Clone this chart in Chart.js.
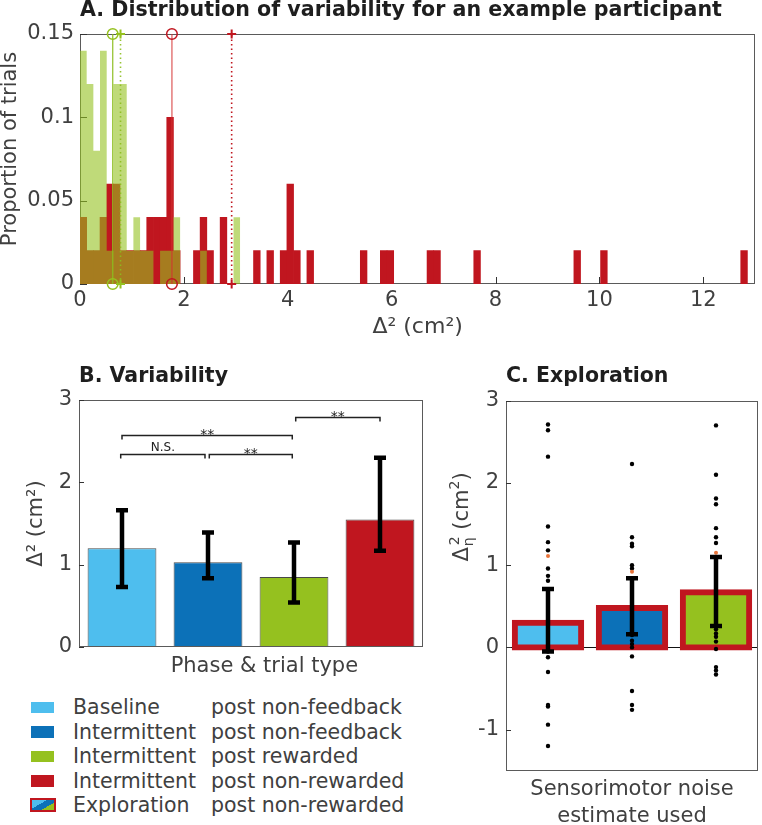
<!DOCTYPE html>
<html lang="en">
<head>
<meta charset="UTF-8" />
<title>Variability and exploration</title>
<script src="https://cdn.jsdelivr.net/npm/chart.js"></script>
<style>
  html, body { margin: 0; padding: 0; background: #fff; overflow: hidden; }
  body { width: 762px; height: 825px; position: relative; font-family: "DejaVu Sans", sans-serif; }
  .panel { position: absolute; }
  #legend { position: absolute; left: 0; top: 695px; width: 430px; font-size: 20.5px; color: #404040; }
  .row { position: absolute; left: 0; height: 24.6px; line-height: 24.6px; white-space: nowrap; width: 430px; }
  .sw { position: absolute; left: 31px; top: 6.5px; width: 23px; height: 11.5px; }
  .sw.explore { left: 29.5px; top: 5px; width: 22.5px; height: 10px; border: 2px solid #C0161F; }
  .c1 { position: absolute; left: 73px; }
  .c2 { position: absolute; left: 211px; }
</style>
</head>
<body>
  <canvas id="chartA" class="panel" width="762" height="345" style="left:0;top:0"></canvas>
  <canvas id="chartB" class="panel" width="430" height="335" style="left:0;top:355px"></canvas>
  <canvas id="chartC" class="panel" width="332" height="475" style="left:430px;top:355px"></canvas>
  <div id="legend"></div>

<script>
// ---- panel A: histogram of squared deviations (one participant) ----
const binWidth = 0.1285;
const greenBins = [0, 1, 2, 3, 4, 5, 6, 7, 8, 9, 10, 12, 13, 14, 18, 23];
const greenProp = [0.14, 0.12, 0.08, 0.14, 0.02, 0.12, 0.12, 0.02, 0.04, 0.02, 0.02, 0.02, 0.02, 0.04, 0.02, 0.04];
const redBins = [0, 1, 2, 3, 4, 5, 6, 7, 8, 9, 10, 11, 12, 13, 14, 17, 18, 19, 21, 26, 28, 30, 31, 32, 34, 42, 45, 46, 52, 53, 59, 74, 78, 99];
const redProp = [0.04, 0.02, 0.02, 0.04, 0.06, 0.06, 0.02, 0.02, 0.02, 0.02, 0.04, 0.04, 0.04, 0.10, 0.02,
                 0.02, 0.04, 0.02, 0.04, 0.02, 0.02, 0.02, 0.06, 0.02, 0.02,
                 0.02, 0.02, 0.02, 0.02, 0.02, 0.02, 0.02, 0.02, 0.02];
// vertical summary lines: green circle, green cross, red circle, red cross
const markerX = [0.63, 0.78, 1.77, 2.92];
const markerStyle = ['circle', 'cross', 'circle', 'cross'];
const markerDotted = [false, true, false, true];
const xTicksA = [0, 2, 4, 6, 8, 10, 12];
const yTicksA = [0, 0.05, 0.1, 0.15];

// ---- panel B: variability by phase & trial type ----
const trialTypes = ['Baseline post non-feedback', 'Intermittent post non-feedback', 'Intermittent post rewarded', 'Intermittent post non-rewarded'];
const variability = [1.20, 1.03, 0.85, 1.55];
const variabilityLow = [0.73, 0.835, 0.54, 1.17];
const variabilityHigh = [1.66, 1.39, 1.27, 2.30];
const bracketFrom = [-0.015, 1.015, 0, 2.02];
const bracketTo = [0.965, 1.98, 1.98, 3.0];
const bracketY = [2.344, 2.344, 2.575, 2.79];
const bracketText = ['N.S.', '**', '**', '**'];
const yTicksB = [0, 1, 2, 3];

// ---- panel C: exploration by sensorimotor noise estimate ----
const noiseEstimates = ['Baseline', 'Intermittent non-feedback', 'Intermittent rewarded'];
const exploration = [0.30, 0.48, 0.67];
const explorationLow = [-0.05, 0.16, 0.26];
const explorationHigh = [0.71, 0.84, 1.10];
const subjectsBaseline = [2.71, 2.64, 2.32, 1.47, 1.28, 1.18, 0.96, 0.87, 0.81, -0.05, -0.12, -0.30, -0.70, -0.72, -0.94, -1.20];
const subjectsNonFeedback = [2.23, 1.34, 1.26, 1.23, 1.00, 0.96, 0.15, 0.08, 0.04, 0.00, -0.11, -0.53, -0.70, -0.76];
const subjectsRewarded = [2.70, 2.10, 1.81, 1.74, 1.45, 1.34, 1.27, 0.22, 0.17, 0.13, 0.07, -0.02, -0.24, -0.28, -0.33];
const highlighted = [1.11, 0.92, 1.15];
const yTicksC = [-1, 0, 1, 2, 3];

const lightBlue = '#4EBEEE', blue = '#0C71B8', green = '#95C11F', red = '#C0161F';
const textCol = '#404040';
const FONT = '"DejaVu Sans", sans-serif';
Chart.defaults.font.family = FONT;
Chart.defaults.color = textCol;

// box round the plot + inward tick marks (matlab style)
function drawFrame(chart, o) {
  const {ctx, chartArea: a} = chart;
  ctx.save();
  ctx.strokeStyle = '#5a5a5a';
  ctx.lineWidth = 1;
  ctx.strokeRect(Math.round(a.left) + 0.5, Math.round(a.top) + 0.5, Math.round(a.width) - 1, Math.round(a.height) - 1);
  ctx.strokeStyle = '#333';
  ctx.beginPath();
  if (o.yTicks) {
    const y = chart.scales.y;
    y.ticks.forEach(t => {
      const p = Math.round(y.getPixelForValue(t.value)) + 0.5;
      ctx.moveTo(a.left, p); ctx.lineTo(a.left + o.len, p);
    });
  }
  if (o.xTicks) {
    const x = chart.scales.x;
    x.ticks.forEach(t => {
      const p = Math.round(x.getPixelForValue(t.value)) + 0.5;
      ctx.moveTo(p, a.bottom); ctx.lineTo(p, a.bottom - o.len);
    });
  }
  ctx.stroke();
  ctx.restore();
}
const frame = {
  id: 'frame',
  beforeDatasetsDraw(chart, args, o) {
    if (o.zeroLine) {
      const {ctx, chartArea: a} = chart;
      const p = Math.round(chart.scales.y.getPixelForValue(0)) + 0.5;
      ctx.save();
      ctx.strokeStyle = '#111'; ctx.lineWidth = 1;
      ctx.beginPath(); ctx.moveTo(a.left, p); ctx.lineTo(a.right, p); ctx.stroke();
      ctx.restore();
    }
    if (o.layer === 'before') drawFrame(chart, o);
  },
  afterDatasetsDraw(chart, args, o) {
    if (o.layer !== 'before') drawFrame(chart, o);
  }
};

function makeErrorBars(low, high, cap, width) {
  return {
    id: 'errorBars',
    afterDatasetsDraw(chart) {
      const {ctx} = chart;
      const x = chart.scales.x, y = chart.scales.y;
      ctx.save();
      ctx.strokeStyle = '#000';
      ctx.lineWidth = width;
      low.forEach((lo, i) => {
        const px = x.getPixelForValue(i);
        const y0 = y.getPixelForValue(lo), y1 = y.getPixelForValue(high[i]);
        ctx.beginPath();
        ctx.moveTo(px, y0); ctx.lineTo(px, y1);
        ctx.moveTo(px - cap, y0); ctx.lineTo(px + cap, y0);
        ctx.moveTo(px - cap, y1); ctx.lineTo(px + cap, y1);
        ctx.stroke();
      });
      ctx.restore();
    }
  };
}

const brackets = {
  id: 'brackets',
  afterDatasetsDraw(chart) {
    const {ctx} = chart;
    const x = chart.scales.x, y = chart.scales.y;
    ctx.save();
    ctx.strokeStyle = '#222';
    ctx.fillStyle = '#222';
    ctx.lineWidth = 1.5;
    ctx.textAlign = 'center';
    ctx.textBaseline = 'alphabetic';
    bracketY.forEach((v, i) => {
      const x0 = x.getPixelForValue(bracketFrom[i]), x1 = x.getPixelForValue(bracketTo[i]);
      const py = Math.round(y.getPixelForValue(v)) + 0.5;
      ctx.beginPath();
      ctx.moveTo(x0, py + 4); ctx.lineTo(x0, py); ctx.lineTo(x1, py); ctx.lineTo(x1, py + 4);
      ctx.stroke();
      if (bracketText[i] === '**') {
        ctx.font = '14px ' + FONT;
        ctx.fillText(bracketText[i], (x0 + x1) / 2, py + 3);
      } else {
        ctx.font = '12px ' + FONT;
        ctx.fillText(bracketText[i], (x0 + x1) / 2, py - 4);
      }
    });
    ctx.restore();
  }
};

// y title of C: Delta with eta subscript and squared
const etaTitle = {
  id: 'etaTitle',
  afterDraw(chart) {
    const {ctx} = chart;
    const big = '21px ' + FONT, small = '14px ' + FONT;
    ctx.save();
    ctx.fillStyle = textCol;
    ctx.textBaseline = 'alphabetic';
    ctx.textAlign = 'left';
    ctx.font = big;
    const wD = ctx.measureText('Δ').width;
    const wRest = ctx.measureText(' (cm').width;
    const wEnd = ctx.measureText(')').width;
    ctx.font = small;
    const wEta = ctx.measureText('η').width;
    const w2 = ctx.measureText('2').width;
    const total = wD + wEta + 2 + wRest + w2 + wEnd;
    ctx.translate(38, 162);
    ctx.rotate(-Math.PI / 2);
    let cx = -total / 2;
    ctx.font = big; ctx.fillText('Δ', cx, 0); cx += wD;
    ctx.font = small; ctx.fillText('η', cx + 1, 5); ctx.fillText('2', cx + 2, -9); cx += wEta + 2;
    ctx.font = big; ctx.fillText(' (cm', cx, 0); cx += wRest;
    ctx.font = small; ctx.fillText('2', cx, -9); cx += w2;
    ctx.font = big; ctx.fillText(')', cx, 0);
    ctx.restore();
  }
};

const tickFont = {size: 21};
const setTicks = vals => scale => { scale.ticks = vals.map(v => ({value: v})); };

// green histogram as a filled step outline (avoids seams between translucent bars)
const greenSteps = [];
const lastGreen = Math.max(...greenBins) + 1;
for (let k = 0; k <= lastGreen; k++) {
  const j = greenBins.indexOf(k);
  greenSteps.push({x: k * binWidth, y: j >= 0 ? greenProp[j] : 0});
}

// ---------------- A ----------------
const markerColors = [green, green, red, red];
const lineColors = ['rgba(140,190,30,0.9)', 'rgba(140,190,30,0.9)', 'rgba(214,50,50,0.75)', red];
new Chart(document.getElementById('chartA'), {
  type: 'bar',
  data: {
    datasets: [
      ...markerX.map((v, i) => ({
        type: 'line',
        label: 'summary ' + i,
        data: [{x: v, y: 0}, {x: v, y: 0.15}],
        borderColor: lineColors[i],
        borderWidth: markerDotted[i] ? 1.6 : 1.3,
        borderDash: markerDotted[i] ? [1.5, 3] : [],
        pointStyle: markerStyle[i],
        pointRadius: markerStyle[i] === 'circle' ? 5.3 : 4.5,
        pointBorderColor: markerColors[i],
        pointBackgroundColor: 'rgba(0,0,0,0)',
        pointBorderWidth: markerStyle[i] === 'circle' ? 1.5 : 2,
        clip: false,
        order: 0
      })),
      {
        type: 'line',
        label: 'post rewarded',
        data: greenSteps,
        stepped: 'before',
        borderWidth: 0,
        borderColor: 'rgba(0,0,0,0)',
        pointRadius: 0,
        fill: 'origin',
        backgroundColor: 'rgba(149,193,31,0.6)',
        order: 1
      },
      {
        label: 'post non-rewarded',
        data: redBins.map((b, i) => ({x: (b + 0.5) * binWidth, y: redProp[i]})),
        backgroundColor: red,
        order: 2
      }
    ]
  },
  options: {
    responsive: false,
    animation: false,
    layout: {padding: {left: 0, right: 1, top: 0, bottom: 0}},
    datasets: {bar: {grouped: false, barPercentage: 1, categoryPercentage: 1, borderWidth: 0}},
    plugins: {
      legend: {display: false},
      tooltip: {enabled: false},
      filler: {propagate: false},
      title: {
        display: true, text: 'A. Distribution of variability for an example participant',
        align: 'start', fullSize: false, color: '#1e1e1e',
        font: {size: 20.6, weight: 'bold', lineHeight: 1.05},
        padding: {top: 0, bottom: 12.4}
      },
      frame: {layer: 'before', xTicks: true, yTicks: true, len: 7}
    },
    scales: {
      x: {
        type: 'linear', min: 0, max: 13, offset: false,
        grid: {display: false, drawTicks: false},
        border: {display: false},
        afterBuildTicks: setTicks(xTicksA),
        afterFit: s => { s.height = 61; },
        ticks: {font: tickFont, padding: 4, maxRotation: 0, autoSkip: false},
        title: {display: true, text: 'Δ² (cm²)', font: {size: 22}, padding: {top: 0, bottom: 5}}
      },
      y: {
        min: 0, max: 0.15,
        grid: {display: false, drawTicks: false},
        border: {display: false},
        afterBuildTicks: setTicks(yTicksA),
        afterFit: s => { s.width = 80; },
        ticks: {font: tickFont, padding: 6, callback: v => String(v)},
        title: {display: true, text: '   Proportion of trials', font: {size: 21, lineHeight: 1}, padding: {top: 0, bottom: 0}}
      }
    }
  },
  plugins: [frame]
});

// ---------------- B ----------------
new Chart(document.getElementById('chartB'), {
  type: 'bar',
  data: {
    labels: trialTypes,
    datasets: [{
      label: 'Variability',
      data: variability,
      backgroundColor: [lightBlue, blue, green, red],
      borderColor: 'rgba(40,40,40,0.85)',
      borderWidth: 1,
      borderSkipped: false,
      barPercentage: 0.8,
      categoryPercentage: 1
    }]
  },
  options: {
    responsive: false,
    animation: false,
    layout: {padding: {left: 0, right: 7, top: 0, bottom: 0}},
    plugins: {
      legend: {display: false},
      tooltip: {enabled: false},
      title: {
        display: true, text: 'B. Variability', align: 'start', fullSize: false, color: '#1e1e1e',
        font: {size: 20.5, weight: 'bold', lineHeight: 1.05},
        padding: {top: 11, bottom: 12.5}
      },
      frame: {layer: 'after', yTicks: true, len: 5}
    },
    scales: {
      x: {
        grid: {display: false, drawTicks: false},
        border: {display: false},
        ticks: {display: false},
        afterFit: s => { s.height = 43; },
        title: {display: true, text: '    Phase & trial type', font: {size: 21}, padding: {top: 0, bottom: 10.4}}
      },
      y: {
        min: 0, max: 3,
        grid: {display: false, drawTicks: false},
        border: {display: false},
        afterBuildTicks: setTicks(yTicksB),
        afterFit: s => { s.width = 79; },
        ticks: {font: tickFont, padding: 7},
        title: {display: true, text: 'Δ² (cm²)', font: {size: 21}, padding: {top: 24, bottom: 0}}
      }
    }
  },
  plugins: [frame, makeErrorBars(variabilityLow, variabilityHigh, 6, 4.5), brackets]
});

// ---------------- C ----------------
const subjectPoints = [];
[subjectsBaseline, subjectsNonFeedback, subjectsRewarded].forEach((arr, i) => {
  arr.forEach(v => subjectPoints.push({x: noiseEstimates[i], y: v}));
});
new Chart(document.getElementById('chartC'), {
  type: 'bar',
  data: {
    labels: noiseEstimates,
    datasets: [
      {
        type: 'line', label: 'highlighted', showLine: false,
        data: highlighted.map((v, i) => ({x: noiseEstimates[i], y: v})),
        pointRadius: 2, pointBackgroundColor: '#E8743B', pointBorderWidth: 0, order: 0
      },
      {
        type: 'line', label: 'participants', showLine: false,
        data: subjectPoints,
        pointRadius: 2.2, pointBackgroundColor: '#000', pointBorderWidth: 0, order: 1
      },
      {
        label: 'Exploration',
        data: exploration,
        backgroundColor: [lightBlue, blue, green],
        borderColor: red,
        borderWidth: 6,
        borderSkipped: false,
        inflateAmount: 3,
        barPercentage: 0.79,
        categoryPercentage: 1,
        order: 2
      }
    ]
  },
  options: {
    responsive: false,
    animation: false,
    layout: {padding: {left: 0, right: 1, top: 0, bottom: 0}},
    plugins: {
      legend: {display: false},
      tooltip: {enabled: false},
      title: {
        display: true, text: 'C. Exploration', align: 'start', fullSize: false, color: '#1e1e1e',
        font: {size: 20.5, weight: 'bold', lineHeight: 1.05},
        padding: {top: 11, bottom: 13.2}
      },
      frame: {layer: 'after', yTicks: true, len: 5, zeroLine: true}
    },
    scales: {
      x: {
        grid: {display: false, drawTicks: false},
        border: {display: false},
        ticks: {display: false},
        afterFit: s => { s.height = 59.3; },
        title: {display: true, text: ['Sensorimotor noise', 'estimate used'], font: {size: 21, lineHeight: 1.3}, padding: {top: 0, bottom: 0}}
      },
      y: {
        min: -1.5, max: 3,
        grid: {display: false, drawTicks: false},
        border: {display: false},
        afterBuildTicks: setTicks(yTicksC),
        afterFit: s => { s.width = 76; },
        ticks: {font: tickFont, padding: 7}
      }
    }
  },
  plugins: [frame, makeErrorBars(explorationLow, explorationHigh, 6, 4.5), etaTitle]
});

// ---------------- legend ----------------
const legendPhase = ['Baseline', 'Intermittent', 'Intermittent', 'Intermittent', 'Exploration'];
const legendTrial = ['post non-feedback', 'post non-feedback', 'post rewarded', 'post non-rewarded', 'post non-rewarded'];
const legendColor = [lightBlue, blue, green, red, null];
const legend = document.getElementById('legend');
legendPhase.forEach((p, i) => {
  const row = document.createElement('div');
  row.className = 'row';
  row.style.top = (i * 24.6) + 'px';
  const sw = document.createElement('div');
  if (legendColor[i]) {
    sw.className = 'sw';
    sw.style.background = legendColor[i];
  } else {
    sw.className = 'sw explore';
    sw.style.background = `linear-gradient(150deg, ${lightBlue} 0 38%, ${blue} 38% 68%, ${green} 68%)`;
  }
  row.appendChild(sw);
  const c1 = document.createElement('span'); c1.className = 'c1'; c1.textContent = p;
  const c2 = document.createElement('span'); c2.className = 'c2'; c2.textContent = legendTrial[i];
  row.appendChild(c1); row.appendChild(c2);
  legend.appendChild(row);
});
</script>
</body>
</html>
